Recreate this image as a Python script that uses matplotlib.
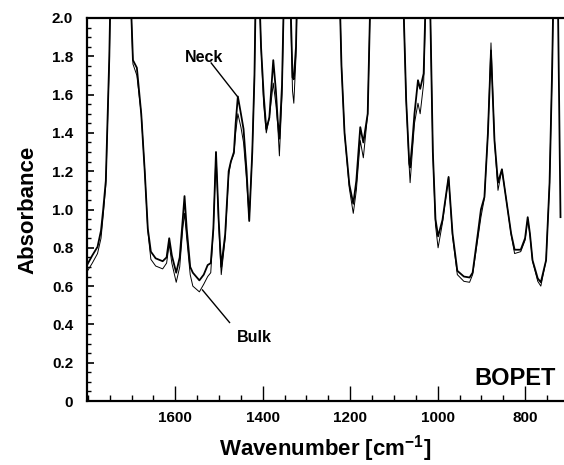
import numpy as np
import matplotlib
matplotlib.use("Agg")
import matplotlib.pyplot as plt
from matplotlib.ticker import MultipleLocator

plt.rcParams['font.family'] = ['Liberation Sans', 'DejaVu Sans']
plt.rcParams['font.weight'] = 'bold'
plt.rcParams['mathtext.fontset'] = 'custom'
plt.rcParams['mathtext.rm'] = 'Liberation Sans:bold'
plt.rcParams['mathtext.default'] = 'rm'

# off-scale absorbance (saturated bands) is stored as 2.3, clipped by the axis
wavenumber = [1802, 1790, 1778, 1770, 1765, 1759, 1751, 1747, 1705, 1697, 1688,
              1678, 1670, 1663, 1656, 1645, 1629, 1620, 1614, 1608, 1598, 1590,
              1583, 1579, 1574, 1566, 1560, 1545, 1535, 1526, 1519, 1513, 1507,
              1501, 1495, 1486, 1478, 1473, 1466, 1462, 1457, 1450, 1444, 1437,
              1431, 1424, 1419, 1415, 1410, 1404, 1398, 1392, 1385, 1376, 1370,
              1366, 1362, 1356, 1350, 1339, 1332, 1329, 1324, 1320, 1226, 1220,
              1213, 1202, 1193, 1186, 1177, 1170, 1160, 1152, 1081, 1072, 1065,
              1063, 1058, 1053, 1045, 1040, 1032, 1025, 1019, 1011, 1005, 999,
              989, 975, 966, 955, 940, 927, 920, 908, 901, 893, 885, 878, 870,
              862, 853, 843, 832, 824, 810, 800, 794, 789, 783, 771, 764, 752,
              744, 738, 734, 726, 719, 711]

neck = [0.71, 0.76, 0.805, 0.89, 1.00, 1.15, 1.80, 2.3, 2.3, 1.78, 1.74,
        1.50, 1.20, 0.90, 0.78, 0.745, 0.73, 0.75, 0.85, 0.76, 0.67, 0.75,
        0.95, 1.07, 0.90, 0.70, 0.67, 0.63, 0.66, 0.71, 0.72, 0.90, 1.30,
        0.95, 0.70, 0.87, 1.20, 1.25, 1.30, 1.45, 1.59, 1.50, 1.42, 1.20,
        0.94, 1.30, 1.70, 2.3, 2.3, 1.85, 1.60, 1.42, 1.48, 1.78, 1.62,
        1.47, 1.37, 1.65, 2.3, 2.3, 1.69, 1.68, 1.85, 2.3, 2.3, 1.75,
        1.40, 1.13, 1.03, 1.15, 1.43, 1.35, 1.50, 2.3, 2.3, 1.57, 1.24,
        1.22, 1.35, 1.50, 1.675, 1.63, 1.71, 2.3, 2.3, 1.30, 0.95, 0.86,
        0.945, 1.17, 0.875, 0.68, 0.65, 0.645, 0.67, 0.875, 1.00, 1.065, 1.40, 1.83, 1.36,
        1.14, 1.21, 1.05, 0.875, 0.79, 0.79, 0.85, 0.96, 0.875, 0.735, 0.64, 0.62, 0.735,
        1.14, 1.745, 2.3, 2.3, 0.96, np.nan]

bulk = [0.675, 0.72, 0.77, 0.85, 0.97, 1.13, 1.78, 2.3, 2.3, 1.76, 1.70,
        1.50, 1.20, 0.89, 0.74, 0.705, 0.69, 0.72, 0.82, 0.72, 0.62, 0.70,
        0.90, 0.98, 0.85, 0.66, 0.60, 0.57, 0.61, 0.65, 0.67, 0.90, 1.30,
        0.93, 0.66, 0.85, 1.18, 1.25, 1.29, 1.40, 1.50, 1.43, 1.35, 1.15,
        0.95, 1.30, 1.70, 2.3, 2.3, 1.85, 1.55, 1.40, 1.48, 1.66, 1.55,
        1.45, 1.28, 1.60, 2.3, 2.3, 1.62, 1.555, 1.80, 2.3, 2.3, 1.75,
        1.40, 1.11, 0.98, 1.10, 1.36, 1.27, 1.50, 2.3, 2.3, 1.57, 1.22,
        1.14, 1.30, 1.45, 1.555, 1.50, 1.66, 2.3, 2.3, 1.30, 0.92, 0.80,
        0.93, 1.17, 0.86, 0.66, 0.625, 0.62, 0.66, 0.85, 0.96, 1.06, 1.40, 1.87, 1.36,
        1.10, 1.21, 1.05, 0.87, 0.77, 0.78, 0.84, 0.95, 0.87, 0.73, 0.625, 0.60, 0.735,
        1.14, 1.745, 2.3, 2.3, 2.3, 2.3]

x_ticks = [1600, 1400, 1200, 1000, 800]
y_ticks = [0, 0.2, 0.4, 0.6, 0.8, 1.0, 1.2, 1.4, 1.6, 1.8, 2.0]
y_ticklabels = ['0', '0.2', '0.4', '0.6', '0.8', '1.0', '1.2', '1.4', '1.6', '1.8', '2.0']

fig = plt.figure(figsize=(5.64, 4.65), dpi=100)
ax = fig.add_axes([0.1543, 0.1376, 0.8457, 0.8237])

ax.plot(wavenumber, bulk, color='black', lw=0.7)
ax.plot(wavenumber, neck, color='black', lw=1.3)

ax.set_xlim(1802, 711)
ax.set_ylim(0, 2.0)

ax.set_xticks(x_ticks)
ax.xaxis.set_minor_locator(MultipleLocator(50))
ax.set_yticks(y_ticks)
ax.set_yticklabels(y_ticklabels)
ax.yaxis.set_minor_locator(MultipleLocator(0.05))

ax.tick_params(axis='x', which='major', direction='in', length=11, width=1,
               labelsize=11, pad=7, top=False)
ax.tick_params(axis='x', which='minor', direction='in', length=4, width=1, top=False)
ax.tick_params(axis='y', which='major', direction='in', length=5, width=1.2,
               labelsize=11, pad=10, right=False)
ax.tick_params(axis='y', which='minor', direction='in', length=3, width=1, right=False)

for s in ['left', 'bottom', 'top']:
    ax.spines[s].set_linewidth(1.6)
ax.spines['right'].set_visible(False)

ax.set_xlabel('Wavenumber [cm$^{-1}$]', fontsize=16, fontweight='bold', labelpad=6)
ax.set_ylabel('Absorbance', fontsize=16, fontweight='bold', labelpad=10)

ax.text(1534, 1.77, 'Neck', fontsize=11.5, fontweight='bold', ha='center', va='baseline')
ax.plot([1518, 1458], [1.765, 1.59], color='black', lw=1.0)
ax.text(1419, 0.31, 'Bulk', fontsize=11.5, fontweight='bold', ha='center', va='baseline')
ax.plot([1538, 1476], [0.58, 0.41], color='black', lw=1.0)

ax.text(730, 0.085, 'BOPET', fontsize=17, fontweight='bold', ha='right', va='baseline')

fig.savefig('out.png', dpi=100)
